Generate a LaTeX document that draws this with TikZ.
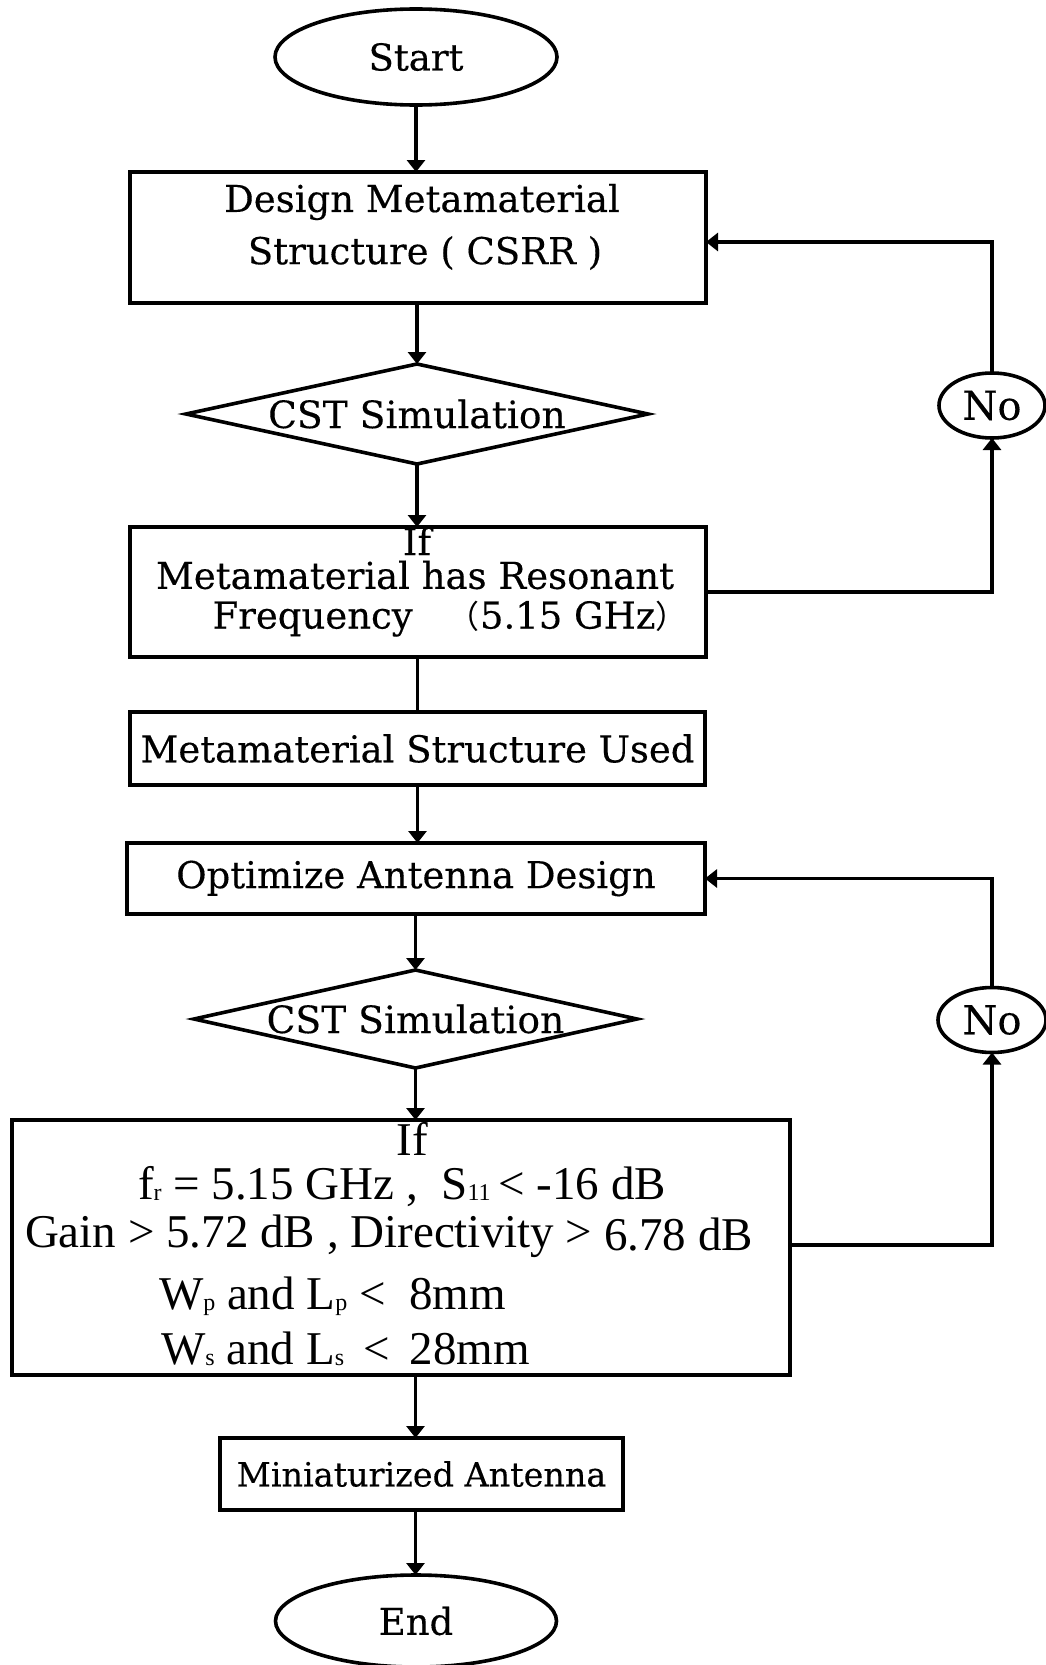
\documentclass[tikz,border=0pt]{standalone}
\usepackage{fontspec}
\setmainfont{DejaVu Serif}[FakeBold=0.3]
\newfontfamily\tnr{Liberation Serif}
\newfontfamily\cjk{Noto Sans CJK SC}
\usetikzlibrary{shapes.geometric,arrows.meta,calc}
\newcommand{\sbs}[1]{\raisebox{-0.3pt}{\fontsize{12}{12}\selectfont #1}}
\newcommand{\fwp}[1]{{\cjk\fontsize{16}{16}\selectfont #1}}
\begin{document}
\begin{tikzpicture}[x=0.5pt,y=-0.5pt,
  every node/.style={inner sep=0pt, outer sep=0pt},
  box/.style={draw, line width=1.8pt, rectangle, font=\fontsize{18.5}{21}\selectfont},
  oval/.style={draw, line width=1.8pt, ellipse, font=\fontsize{18.5}{21}\selectfont},
  dia/.style={draw, line width=1.8pt, diamond, aspect=4.6, font=\fontsize{18.8}{21}\selectfont},
  lbl/.style={font=\fontsize{18.5}{21}\selectfont},
  tlbl/.style={font=\tnr\fontsize{23.5}{26}\selectfont},
  arr/.style={line width=1.8pt, -{Triangle[width=9pt,length=6pt]}},
  ln/.style={line width=1.8pt}]
\useasboundingbox (0,0) rectangle (1045,1665);

% shapes
\node[oval, minimum width=141pt, minimum height=48pt] (start) at (416,57) {Start};
\node[box, minimum width=288pt, minimum height=65.5pt] (design) at (418,237.5) {};
\node[lbl] (designa) at (422,202) {Design Metamaterial};
\node[lbl] (designb) at (425,253) {Structure ( CSRR )};
\node[dia, minimum width=231pt, minimum height=50pt] (sim1) at (417,414) {CST Simulation};
\node[box, minimum width=288pt, minimum height=65pt] (if1) at (418,592) {};
\node[lbl] (if1a) at (417,541) {If};
\node[lbl] (if1b) at (415,575) {Metamaterial has Resonant};
\node[lbl, text height=13pt, text depth=3.5pt] (if1c) at (450,619) {Frequency\ \ \ \fwp{（}5.15 GHz\fwp{）}};
\node[box, minimum width=287.5pt, minimum height=36.5pt] (used) at (417.5,748.5) {Metamaterial Structure Used};
\node[box, minimum width=289pt, minimum height=35.5pt] (opt) at (416,878.5) {Optimize Antenna Design};
\node[dia, minimum width=221.5pt, minimum height=49pt] (sim2) at (415.5,1019) {CST Simulation};
\node[box, minimum width=389pt, minimum height=127.5pt] (if2) at (401,1247.5) {};
\node[tlbl] (if2a) at (412,1139) {If};
\node[tlbl] (if2b) at (402,1187) {f\sbs{r} = 5.15 GHz ,\ \ S\sbs{11}{\,}< -16 dB};
\node[tlbl] (if2c) at (389,1236) {Gain > 5.72 dB , Directivity > \raisebox{-1.5pt}{6.78 dB}};
\node[tlbl, anchor=west] (if2d) at (159,1296) {W\sbs{p} and L\sbs{p} <\ \ 8mm};
\node[tlbl, anchor=west] (if2e) at (161,1349) {W\sbs{s} and L\sbs{s}\ \,<\ \,28mm};
\node[box, minimum width=201.5pt, minimum height=36pt, font=\fontsize{16.7}{19}\selectfont] (mini) at (421.5,1474) {Miniaturized Antenna};
\node[oval, minimum width=140.5pt, minimum height=46pt] (end) at (416,1621) {End};
\node[oval, minimum width=53pt, minimum height=32.5pt, font=\fontsize{20}{22}\selectfont] (no1) at (992,405.5) {No};
\node[oval, minimum width=54pt, minimum height=32.5pt, font=\fontsize{20}{22}\selectfont] (no2) at (992,1020) {No};

% connectors
\draw[arr] (start.south) -- (start.south |- design.north);
\draw[arr] (sim1.north |- design.south) -- (sim1.north);
\draw[arr] (sim1.south) -- (sim1.south |- if1.north);
\draw[ln] (used.north |- if1.south) -- (used.north);
\draw[arr] (used.south) -- (used.south |- opt.north);
\draw[arr] (sim2.north |- opt.south) -- (sim2.north);
\draw[arr] (sim2.south) -- (sim2.south |- if2.north);
\draw[arr] (sim2.south |- if2.south) -- (sim2.south |- mini.north);
\draw[arr] (sim2.south |- mini.south) -- (sim2.south |- end.north);
\draw[arr] (if1.east) -| (no1.south);
\draw[arr] (no1.north) |- ($(design.east)+(0,4.5)$);
\draw[arr] ($(if2.east)+(0,-2.5)$) -| (no2.south);
\draw[arr] (no2.north) |- (opt.east);
\end{tikzpicture}
\end{document}
